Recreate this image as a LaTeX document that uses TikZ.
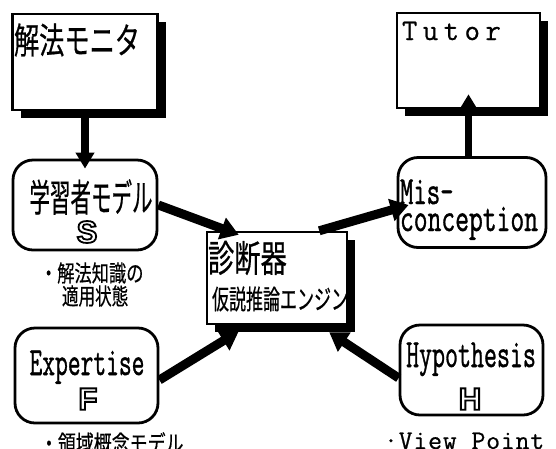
\documentclass[tikz,border=0pt]{standalone}
\usepackage{fontspec}
\usepackage{graphicx}
\usepackage{xcolor}
\usetikzlibrary{arrows.meta,shadows}
\newfontfamily\jpf[FakeBold=0.6]{Noto Sans CJK JP}
\newfontfamily\monof[FakeBold=1.2]{Latin Modern Mono}
\newfontfamily\monosp[LetterSpace=18,FakeBold=0.6]{Latin Modern Mono}
\newfontfamily\monovp[LetterSpace=3,FakeBold=0.6]{Latin Modern Mono}
\newfontfamily\sansf{Liberation Sans}
\newcommand{\jtext}[3]{\scalebox{#1}[1]{\fontsize{#2}{#2}\selectfont\jpf #3}}
\newcommand{\ltext}[3]{\scalebox{#1}[1]{\fontsize{#2}{#2}\selectfont\monof #3}}
\newcommand{\olet}[1]{{\fontsize{31}{31}\selectfont\sansf\bfseries
  \special{pdf:literal direct 1 1 1 rg 0 0 0 RG 2 Tr 1.8 w}#1\special{pdf:literal direct 0 0 0 rg 0 0 0 RG 0 Tr 0.4 w}}}
\begin{document}
\begin{tikzpicture}[x=1pt,y=-1pt,
  sbox/.style={draw, line width=2.5pt, fill=white, inner sep=0pt,
    drop shadow={shadow xshift=8pt, shadow yshift=-8pt, fill=black, opacity=1}},
  rbox/.style={draw, line width=2.8pt, rounded corners=20pt, fill=white, inner sep=0pt},
  txt/.style={inner sep=0pt, outer sep=0pt},
  varr/.style={line width=7.5pt, -{Triangle[width=18pt,length=16pt]}},
  darr/.style={line width=9pt, -{Triangle[width=22pt,length=18pt]}}]
\useasboundingbox (0,0) rectangle (556,448);
% boxes
\node[sbox, minimum width=145pt, minimum height=96pt] (mon) at (85,62) {};
\node[sbox, minimum width=143pt, minimum height=95pt] (tut) at (468.5,60.5) {};
\node[sbox, minimum width=140pt, minimum height=92pt] (diag) at (277,278) {};
\node[rbox, minimum width=144pt, minimum height=90pt] (stu) at (85,205) {};
\node[rbox, minimum width=143pt, minimum height=95pt] (exp) at (86.5,375.5) {};
\node[rbox, minimum width=148pt, minimum height=90pt] (mis) at (472,202.5) {};
\node[rbox, minimum width=143pt, minimum height=90pt] (hyp) at (471.5,370) {};
% arrows
\draw[varr] (mon.south) -- ([yshift=-10pt]stu.north);
\draw[varr] (tut.south |- mis.north) -- ([yshift=15pt]tut.south);
\draw[darr] (stu.east) -- ([xshift=33pt,yshift=-4pt]diag.north west);
\draw[darr] ([xshift=-29pt]diag.north east) -- ([xshift=12pt,yshift=-2.5pt]mis.west);
\draw[darr] ([yshift=-4.5pt]exp.east) -- ([xshift=33pt,yshift=-6pt]diag.south west);
\draw[darr] ([yshift=-8pt]hyp.west) -- ([xshift=-19pt,yshift=-7pt]diag.south east);
% texts
\node[txt, anchor=west] (tmon) at (14,40) {\jtext{0.70}{36}{解法モニタ}};
\node[txt, anchor=base west] (ttut) at (402,40) {\fontsize{30}{30}\selectfont\monosp Tutor};
\node[txt] (tstu) at (91,197) {\jtext{0.54}{38}{学習者モデル}};
\node[txt, anchor=west] (tstu1) at (40,273) {\jtext{0.75}{23}{・解法知識の}};
\node[txt, anchor=west] (tstu2) at (62,296) {\jtext{0.72}{23}{適用状態}};
\node[txt, anchor=west] (tdiag) at (208,258) {\jtext{0.71}{37}{診断器}};
\node[txt, anchor=west] (tdiag2) at (212,299) {\jtext{0.63}{27}{仮説推論エンジン}};
\node[txt, anchor=base west] (tmis1) at (400,204) {\ltext{0.65}{40}{Mis-}};
\node[txt, anchor=base west] (tmis2) at (400,231) {\ltext{0.67}{40}{conception}};
\node[txt, anchor=base] (texp) at (87,375) {\ltext{0.62}{40}{Expertise}};
\node[txt, anchor=base] (thyp) at (471,367) {\ltext{0.63}{40}{Hypothesis}};
\node[txt, anchor=west] (texp1) at (40,443) {\jtext{0.78}{23}{・領域概念モデル}};
\node[txt, anchor=base west] (thyp1) at (384,449) {\fontsize{27}{27}\selectfont\monovp ·View Point};
\node[txt] (tS) at (87,232) {\olet{S}};
\node[txt] (tF) at (88,399) {\olet{F}};
\node[txt] (tH) at (470,399) {\olet{H}};
\end{tikzpicture}
\end{document}
